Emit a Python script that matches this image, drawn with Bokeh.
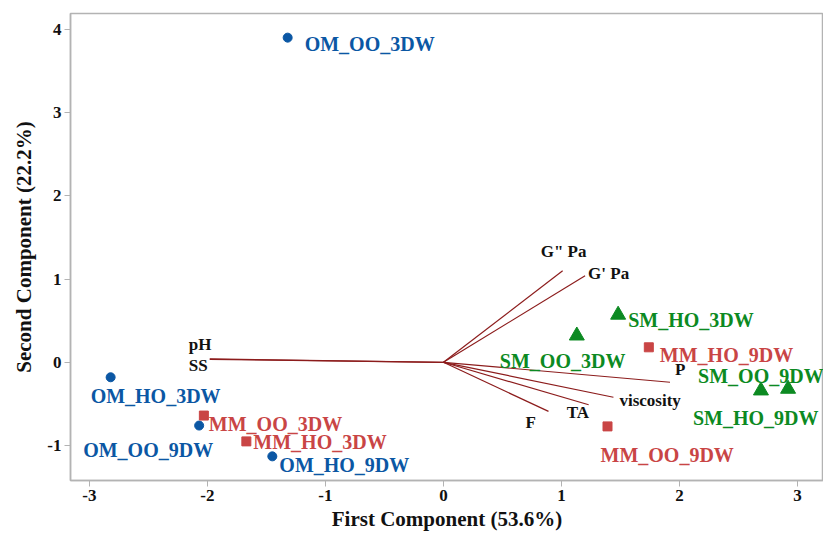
from bokeh.plotting import figure
from bokeh.models import ColumnDataSource, Range1d, FixedTicker
from bokeh.core.properties import value
from bokeh.embed import file_html
from bokeh.resources import INLINE

# ---- PCA scores (samples) ----
sample_names = ["OM_OO_3DW", "OM_HO_3DW", "OM_OO_9DW", "OM_HO_9DW",
                "MM_OO_3DW", "MM_HO_3DW", "MM_HO_9DW", "MM_OO_9DW",
                "SM_OO_3DW", "SM_HO_3DW", "SM_OO_9DW", "SM_HO_9DW"]
pc1_scores = [-1.32, -2.82, -2.07, -1.45, -2.03, -1.67, 1.74, 1.39, 1.13, 1.48, 2.92, 2.69]
pc2_scores = [3.90, -0.18, -0.76, -1.13, -0.64, -0.95, 0.18, -0.77, 0.32, 0.57, -0.32, -0.34]
sample_groups = ["OM", "OM", "OM", "OM", "MM", "MM", "MM", "MM", "SM", "SM", "SM", "SM"]

# ---- PCA loadings (variables) ----
loading_names = ['G" Pa', "G' Pa", "pH", "SS", "P", "viscosity", "TA", "F"]
loading_pc1 = [1.01, 1.20, -1.98, -1.98, 1.92, 1.44, 1.23, 0.89]
loading_pc2 = [1.10, 1.04, 0.04, 0.035, -0.24, -0.42, -0.51, -0.59]

x_ticks = [-3, -2, -1, 0, 1, 2, 3]
y_ticks = [-1, 0, 1, 2, 3, 4]

# label placement (screen pixels, relative to the mark)
sample_label_dx = [17, -20, -116, 7, 5, 7, 11, -7, -77, 10, -90, -68]
sample_label_dy = [6, 19, 24, 9, 8, 1, 8, 29, 25, 5, -13, 27]
loading_label_dx = [-22, 3, -21, -21, 5, 6, -22, -23]
loading_label_dy = [-19, -2, -14, 6, -13, 3, 8, 11]

group_style = {
    "OM": dict(marker="circle", color="#0b57a4", size=9),
    "MM": dict(marker="square", color="#c94545", size=9),
    "SM": dict(marker="triangle", color="#0c8a22", size=15),
}

SERIF = "Liberation Serif"
AXIS_GREY = "#b3b3b3"
VECTOR_RED = "#8c1c1c"

p = figure(width=823, height=533, output_backend="svg", toolbar_location=None,
           x_range=Range1d(-3.16, 3.22), y_range=Range1d(-1.42, 4.19),
           min_border_left=70, min_border_right=0, min_border_top=13,
           min_border_bottom=52)
p.background_fill_color = "white"
p.border_fill_color = "white"
p.outline_line_color = AXIS_GREY
p.outline_line_width = 1.5
p.xgrid.visible = False
p.ygrid.visible = False

# loading vectors from the origin
vec_src = ColumnDataSource(dict(x0=[0] * len(loading_names), y0=[0] * len(loading_names),
                                x1=loading_pc1, y1=loading_pc2, name=loading_names,
                                dx=loading_label_dx, dy=loading_label_dy))
p.segment(x0="x0", y0="y0", x1="x1", y1="y1", source=vec_src,
          line_color=VECTOR_RED, line_width=1.2)
p.text(x="x1", y="y1", text="name", x_offset="dx", y_offset="dy", source=vec_src,
       text_font=value(SERIF), text_font_size="17px", text_font_style="bold",
       text_color="#111111", text_align="left", text_baseline="middle")

# sample scores, one glyph set per group
for grp, st in group_style.items():
    idx = [i for i, g in enumerate(sample_groups) if g == grp]
    src = ColumnDataSource(dict(
        x=[pc1_scores[i] for i in idx],
        y=[pc2_scores[i] for i in idx],
        name=[sample_names[i] for i in idx],
        dx=[sample_label_dx[i] for i in idx],
        dy=[sample_label_dy[i] for i in idx],
    ))
    p.scatter(x="x", y="y", source=src, marker=st["marker"], size=st["size"],
              fill_color=st["color"], line_color=st["color"])
    p.text(x="x", y="y", text="name", x_offset="dx", y_offset="dy", source=src,
           text_font=value(SERIF), text_font_size="20px", text_font_style="bold",
           text_color=st["color"], text_align="left", text_baseline="middle")

# axes
p.xaxis.ticker = FixedTicker(ticks=x_ticks, minor_ticks=[])
p.yaxis.ticker = FixedTicker(ticks=y_ticks, minor_ticks=[])
p.xaxis.major_label_overrides = {t: str(t) for t in x_ticks}
p.yaxis.major_label_overrides = {t: str(t) for t in y_ticks}
p.xaxis.axis_label = "First Component (53.6%)"
p.yaxis.axis_label = "Second Component (22.2%)"
for ax in (p.xaxis, p.yaxis):
    ax.axis_line_color = AXIS_GREY
    ax.axis_line_width = 1.5
    ax.major_tick_line_color = AXIS_GREY
    ax.major_tick_in = 0
    ax.major_tick_out = 6
    ax.minor_tick_line_color = None
    ax.major_label_text_font = SERIF
    ax.major_label_text_font_size = "17px"
    ax.major_label_text_font_style = "bold"
    ax.major_label_text_color = "#111111"
    ax.axis_label_text_font = SERIF
    ax.axis_label_text_font_size = "21px"
    ax.axis_label_text_font_style = "bold"
    ax.axis_label_text_color = "#111111"
p.xaxis.major_label_standoff = 3
p.xaxis.axis_label_standoff = 3
p.yaxis.major_label_standoff = 3
p.yaxis.axis_label_standoff = 8

open("out.html", "w").write(file_html(p, INLINE))
